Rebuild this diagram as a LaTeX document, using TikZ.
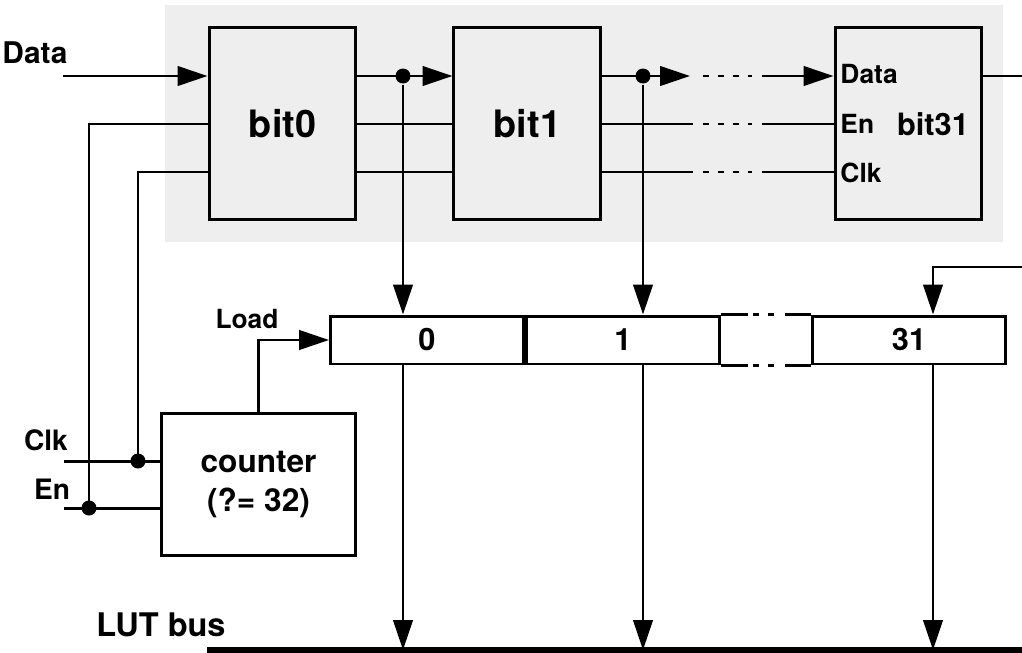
\documentclass[tikz,border=0pt]{standalone}
\usepackage{fontspec}
\setmainfont{TeX Gyre Heros}
\usetikzlibrary{arrows.meta,positioning}
\begin{document}
\begin{tikzpicture}[x=0.02cm, y=-0.02cm, line width=1.7pt,
  sig/.style={-{Triangle[length=17pt,width=11pt]}},
  blk/.style={draw, minimum width=2.94cm, minimum height=3.86cm, inner sep=0pt},
  cell/.style={draw, minimum width=3.86cm, minimum height=0.96cm, inner sep=0pt,
    font=\fontsize{17.5}{20}\selectfont\bfseries},
  dot/.style={circle, fill, inner sep=0pt, minimum size=0.3cm},
  lbl/.style={inner sep=0pt, font=\fontsize{15}{18}\selectfont\bfseries},
  big/.style={inner sep=0pt, font=\fontsize{21.5}{25}\selectfont\bfseries},
  gapdash/.style={dash pattern=on 3.4pt off 5.1pt}]
  \useasboundingbox (0,0) rectangle (1022,653);
  % Shaded area behind the shift chain
  \fill[gray!13] (165,5) rectangle (1003,242);
  % Signal rows
  \coordinate (yD) at (0,76);
  \coordinate (yE) at (0,124);
  \coordinate (yC) at (0,172);
  % Shift chain stages
  \node[blk, big] (bit0) at (282.5,123.5) {bit0};
  \node[blk, big, right=1.9cm of bit0] (bit1) {bit1};
  \node[blk] (bit31) at (908.5,123.5) {};
  \node[lbl, anchor=west] (pD) at (839,74) {Data};
  \node[lbl, anchor=west] (pE) at (839,124) {En};
  \node[lbl, anchor=west] (pC) at (839,173) {Clk};
  \node[inner sep=0pt, font=\fontsize{17.5}{21}\selectfont\bfseries] (n31) at (933,124) {bit31};
  % Data path
  \node[lbl, anchor=west, font=\fontsize{17}{20}\selectfont\bfseries] (ldata) at (1,53) {Data};
  \coordinate (din) at (63,76);
  \draw[sig] (din) -- (bit0.west |- yD);
  \node[dot] (j0) at (403,76) {};
  \draw[sig] (bit0.east |- yD) -- (bit1.west |- yD);
  \node[dot] (j1) at (643,76) {};
  \coordinate (d1) at (690,76);
  \coordinate (d2) at (703,76);
  \coordinate (d3) at (752,76);
  \coordinate (d4) at (762,76);
  \draw[sig] (bit1.east |- yD) -- (d1);
  \draw[gapdash] (d2) -- (d3);
  \draw[sig] (d4) -- (bit31.west |- yD);
  \coordinate (dout) at (1022,76);
  \draw (bit31.east |- yD) -- (dout);
  % En and Clk through the chain
  \foreach \r in {yE,yC} {
    \draw (bit0.east |- \r) -- (bit1.west |- \r);
    \draw (bit1.east |- \r) -- (693,0 |- \r);
    \draw[gapdash] (703,0 |- \r) -- (752,0 |- \r);
    \draw (762,0 |- \r) -- (bit31.west |- \r);
  }
  % Counter
  \node[draw, minimum width=3.9cm, minimum height=2.86cm, align=center,
    font=\fontsize{18}{22.7}\selectfont\bfseries] (cnt) at (258.5,484.5) {counter\\(?= 32)};
  \node[lbl, font=\fontsize{16}{19}\selectfont\bfseries] (lclk) at (46,440) {Clk};
  \node[lbl, font=\fontsize{16}{19}\selectfont\bfseries] (len) at (52,489) {En};
  \coordinate (cin) at (64,461);
  \coordinate (ein) at (64,508);
  \node[dot] (jc) at (138,461) {};
  \node[dot] (je) at (89,508) {};
  \draw (cin) -- (cnt.west |- cin);
  \draw (ein) -- (cnt.west |- ein);
  \draw (bit0.west |- yE) -| (je.center);
  \draw (bit0.west |- yC) -| (jc.center);
  % Load register
  \node[cell] (c0) at (427,340) {0};
  \node[cell, right=0pt of c0] (c1) {1};
  \node[cell] (c31) at (909,340) {31};
  \foreach \a in {north,south} {
    \draw (c1.\a\space east) -- ++(27,0);
    \draw[gapdash] (753,0 |- c1.\a) -- (775,0 |- c1.\a);
    \draw (785,0 |- c1.\a) -- (c31.\a\space west);
  }
  \node[lbl] (lload) at (247,319) {Load};
  \draw[sig] (cnt.north) |- (c0.west);
  % Taps into the register
  \draw[sig] (j0) -- (j0 |- c0.north);
  \draw[sig] (j1) -- (j1 |- c1.north);
  \coordinate (ld31) at (1022,267);
  \coordinate (x31) at (933,267);
  \draw[sig] (ld31) -- (x31) -- (x31 |- c31.north);
  % LUT bus
  \coordinate (busL) at (207,650);
  \coordinate (busR) at (1022,650);
  \draw[line width=3pt] (busL) -- (busR);
  \node[inner sep=0pt, font=\fontsize{18.5}{22}\selectfont\bfseries] (lbus) at (161,625) {LUT bus};
  \draw[sig] (j0 |- c0.south) -- (j0 |- busL);
  \draw[sig] (j1 |- c1.south) -- (j1 |- busL);
  \draw[sig] (x31 |- c31.south) -- (x31 |- busL);
\end{tikzpicture}
\end{document}
